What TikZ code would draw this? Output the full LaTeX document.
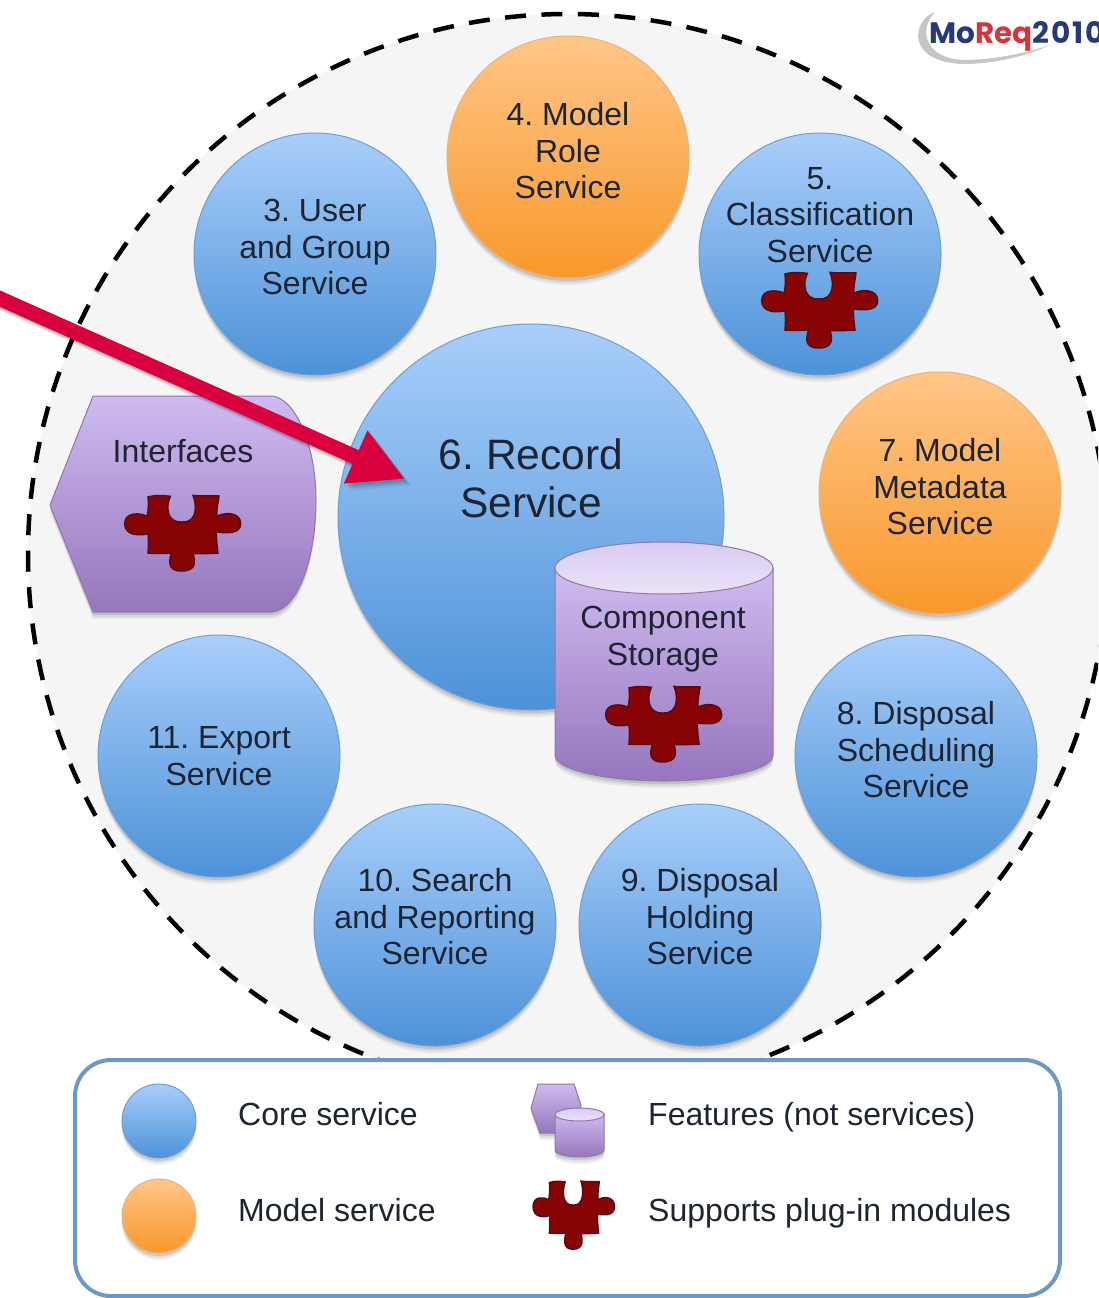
\documentclass[tikz,border=0pt]{standalone}
\usepackage{fontspec}
\setmainfont{Liberation Sans}
\newfontfamily\logofont{Poppins}
\usetikzlibrary{shadows,arrows.meta}
\definecolor{txt}{HTML}{1E2430}
\definecolor{ringfill}{HTML}{F5F5F5}
\definecolor{blueT}{HTML}{A9CEFA}
\definecolor{blueB}{HTML}{4C92D8}
\definecolor{blueE}{HTML}{6E9FD2}
\definecolor{orT}{HTML}{FFC688}
\definecolor{orB}{HTML}{F8982B}
\definecolor{orE}{HTML}{E9B377}
\definecolor{puT}{HTML}{CFBBF0}
\definecolor{puB}{HTML}{9676BD}
\definecolor{puE}{HTML}{8E78A8}
\definecolor{capT}{HTML}{D9CBF0}
\definecolor{capB}{HTML}{EBE3F7}
\definecolor{puz}{HTML}{880404}
\definecolor{puzE}{HTML}{5A0A12}
\definecolor{arrowred}{HTML}{D9003D}
\definecolor{legE}{HTML}{6C98C6}
\definecolor{logoB}{HTML}{26397A}
\definecolor{logoR}{HTML}{D8343C}
\tikzset{
  x=1pt,y=-1pt,
  softshadow/.style={
    general shadow={shadow yshift=-7pt,fill=black,opacity=.05},
    general shadow={shadow yshift=-5pt,fill=black,opacity=.07},
    general shadow={shadow yshift=-3pt,fill=black,opacity=.10}},
  svc/.style={circle,inner sep=0pt,minimum size=#1,softshadow},
  core/.style={svc=#1,draw=blueE,line width=1pt,top color=blueT,bottom color=blueB},
  model/.style={svc=#1,draw=orE,line width=1pt,top color=orT,bottom color=orB},
  lbl/.style={align=center,text=txt,inner sep=0pt,font=\fontsize{32}{36.5}\selectfont},
  leglbl/.style={anchor=base west,text=txt,inner sep=0pt,font=\fontsize{32}{36.5}\selectfont},
  feature/.style={draw=puE,line width=1pt,top color=puT,bottom color=puB},
  capstyle/.style={draw=puE,line width=1pt,top color=capT,bottom color=capB},
  puzzle/.pic={
    \path[fill=puz,draw=puzE,line width=1.5pt]
      (-105,-108) .. controls (-80,-115) and (-55,-112) .. (-38,-110)
      .. controls (-52,-80) and (-50,-30) .. (-3,-33)
      .. controls (44,-30) and (42,-85) .. (30,-113)
      .. controls (50,-110) and (85,-112) .. (108,-111)
      .. controls (105,-90) and (100,-70) .. (102,-50)
      .. controls (120,-62) and (173,-65) .. (173,-28)
      .. controls (173,5) and (125,0) .. (100,-3)
      .. controls (100,20) and (102,40) .. (105,60)
      .. controls (80,62) and (55,62) .. (30,62)
      .. controls (35,80) and (45,114) .. (-5,114)
      .. controls (-50,114) and (-40,80) .. (-35,60)
      .. controls (-60,62) and (-85,62) .. (-105,60)
      .. controls (-103,40) and (-103,20) .. (-105,2)
      .. controls (-125,8) and (-175,10) .. (-175,-28)
      .. controls (-175,-65) and (-125,-60) .. (-108,-50)
      .. controls (-103,-70) and (-103,-90) .. (-105,-108) -- cycle;
  }
}
\begin{document}
\frenchspacing
\begin{tikzpicture}
\useasboundingbox (0,0) rectangle (1098,1298);
\clip (0,0) rectangle (1098,1298);
% ring
\draw[fill=ringfill,line width=4.5pt,dash pattern=on 21pt off 15.5pt] (568,554) circle[radius=540];
% logo
\fill[gray!45] (935,12) .. controls (912,20) and (905,62) .. (963,64)
  .. controls (995,64) and (1030,55) .. (1050,45)
  .. controls (1030,52) and (995,60) .. (963,60)
  .. controls (925,58) and (918,30) .. (935,12) -- cycle;
\node[anchor=base west,inner sep=0pt,font=\logofont\bfseries\fontsize{29.5}{30}\selectfont] (logo) at (929,44)
  {\textcolor{logoB}{Mo}\textcolor{logoR}{Req}\textcolor{logoB}{\addfontfeature{LetterSpace=6}2010}};
% services
\node[core=242pt] (s3) at (315,254) {};
\node[model=242pt] (s4) at (568,157) {};
\node[core=242pt] (s5) at (820,254) {};
\node[model=242pt] (s7) at (940,493) {};
\node[core=242pt] (s8) at (916,756) {};
\node[core=242pt] (s9) at (700,925) {};
\node[core=242pt] (s10) at (435,925) {};
\node[core=242pt] (s11) at (219,756) {};
\node[core=386pt] (s6) at (531,517) {};
\node[lbl] (t3) at (315,247) {3. User\\and Group\\Service};
\node[lbl] (t4) at (568,151) {4. Model\\Role\\Service};
\node[lbl] (t5) at (820,215) {5.\\Classification\\Service};
\node[lbl] (t7) at (940,487) {7. Model\\Metadata\\Service};
\node[lbl] (t8) at (916,750) {8. Disposal\\Scheduling\\Service};
\node[lbl] (t9) at (700,917) {9. Disposal\\Holding\\Service};
\node[lbl] (t10) at (435,917) {10. Search\\and Reporting\\Service};
\node[lbl] (t11) at (219,756) {11. Export\\Service};
\node[lbl,font=\fontsize{42.5}{48}\selectfont] (t6) at (531,478) {6. Record\\Service};
\pic[scale=.3333] (pz5) at (820,310) {puzzle};
% interfaces
\path[feature,softshadow] (93,396) -- (272,396) .. controls (295,398) and (316,445) .. (316,500)
  .. controls (316,560) and (297,610) .. (272,612) -- (93,612) -- (50,505) -- cycle;
\node[lbl] (tif) at (183,451) {Interfaces};
\pic[scale=.3333] (pzif) at (183,533) {puzzle};
% component storage
\path[feature,softshadow] (555,568) -- (555,755) arc[start angle=180,end angle=0,x radius=109,y radius=26] -- (773,568) -- cycle;
\path[capstyle] (664,568) ellipse[x radius=109,y radius=26];
\node[lbl] (tcs) at (663,639) {Component\\Storage};
\pic[scale=.3333] (pzcs) at (664,724) {puzzle};
% arrow
\coordinate (arrowstart) at (-6,296);
\coordinate (arrowtip) at (405,479);
\foreach \o/\a in {7/.06,5/.09,3/.12}{
  \draw[black,opacity=\a,line width=15pt,-{Triangle[length=54pt,width=54pt]}]
    ([shift={(\o,\o)}]arrowstart) -- ([shift={(\o,\o)}]arrowtip);
}
\draw[arrowred,line width=15pt,-{Triangle[length=54pt,width=54pt]}] (arrowstart) -- (arrowtip);
% legend
\draw[fill=white,draw=legE,line width=4pt,rounded corners=36pt] (75,1060) rectangle (1060,1296);
\node[core=74pt] (lc) at (159,1121) {};
\node[model=74pt] (lm) at (159,1216) {};
\node[leglbl] (lt1) at (238,1125.5) {Core service};
\node[leglbl] (lt2) at (238,1221.5) {Model service};
\path[feature,softshadow] (538,1084) -- (574,1084) -- (581,1105) -- (578,1133) -- (540,1133) -- (531,1108) -- cycle;
\path[feature,softshadow] (555,1114) -- (555,1150) arc[start angle=180,end angle=0,x radius=24.5,y radius=7] -- (604,1114) -- cycle;
\path[capstyle] (579.5,1114.5) ellipse[x radius=24.5,y radius=6.5];
\pic[xscale=.234,yscale=.30] (pzl) at (574,1215) {puzzle};
\node[leglbl] (lt3) at (648,1125.5) {Features (not services)};
\node[leglbl] (lt4) at (648,1221.5) {Supports plug-in modules};
\end{tikzpicture}
\end{document}
